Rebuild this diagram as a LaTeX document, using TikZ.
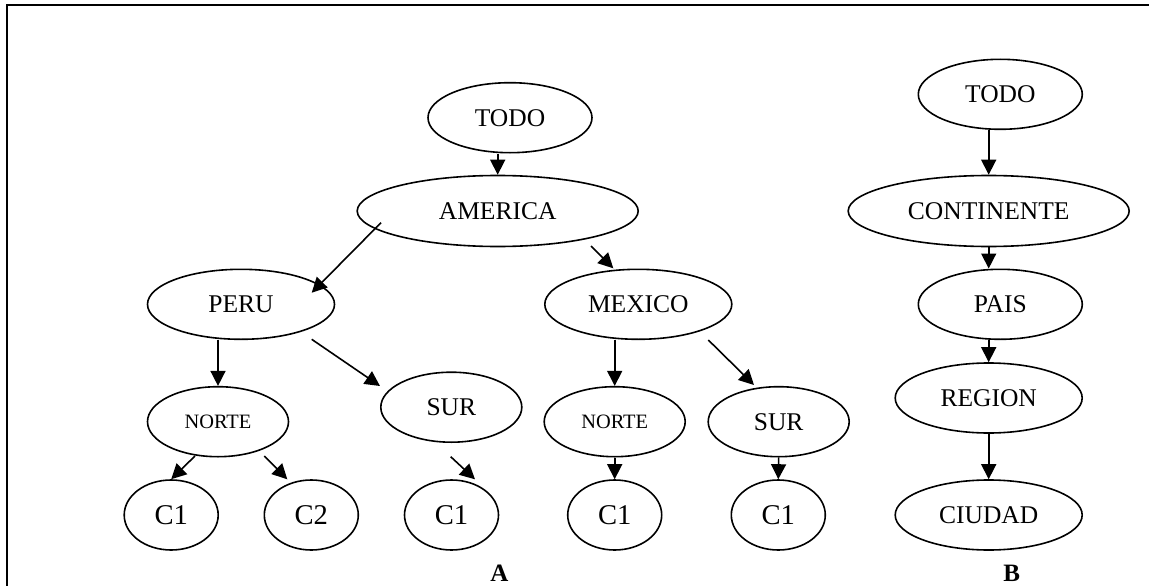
\documentclass[tikz,border=0pt]{standalone}
\usepackage{fontspec}
\setmainfont{Liberation Serif}
\usetikzlibrary{shapes.geometric,arrows.meta}
\begin{document}
\begin{tikzpicture}[x=1pt,y=-1pt,
  ell/.style={draw,ellipse,line width=1.6pt,inner sep=0pt,font=\fontsize{25.5}{28}\selectfont},
  big/.style={ell,minimum width=281pt,minimum height=71pt},
  mid/.style={ell,minimum width=187pt,minimum height=70pt},
  sml/.style={ell,minimum width=164pt,minimum height=70pt},
  sur/.style={ell,minimum width=141pt,minimum height=70pt},
  nrt/.style={ell,minimum width=141pt,minimum height=70pt,font=\fontsize{20.4}{22}\selectfont},
  cc/.style={ell,minimum width=94pt,minimum height=70pt,font=\fontsize{28.6}{30}\selectfont},
  arr/.style={line width=1.6pt,-{Triangle[length=15pt,width=15pt]}},
  lbl/.style={font=\fontsize{25}{27}\selectfont\bfseries,anchor=base}]
\useasboundingbox (0,0) rectangle (1149,586);
\draw[line width=1.8pt] (7.3,590) -- (7.3,5) -- (1152,5);
% tree A
\node[sml] (todo) at (510,117.7) {TODO};
\node[big] (america) at (497.7,211) {AMERICA};
\node[mid] (peru) at (241,304.3) {PERU};
\node[mid] (mexico) at (638.3,304.3) {MEXICO};
\node[nrt] (norteP) at (218,421.7) {NORTE};
\node[sur] (surP) at (451.3,407.2) {SUR\hspace{12pt}};
\node[nrt] (norteM) at (614.7,421.7) {NORTE};
\node[sur] (surM) at (778.7,421.7) {SUR};
\node[cc] (c1a) at (171.2,515) {C1};
\node[cc] (c2a) at (311.3,515) {C2};
\node[cc] (c1b) at (451.5,515) {C1};
\node[cc] (c1c) at (614.7,515) {C1};
\node[cc] (c1d) at (778.3,515) {C1};
\node[lbl] (la) at (499.5,581) {A};
% tree B
\node[sml] (todoB) at (1000.3,94.3) {TODO};
\node[big] (cont) at (988.7,211) {CONTINENTE};
\node[sml] (pais) at (1000.3,304.3) {PAIS};
\node[mid] (region) at (988.7,398) {REGION};
\node[mid] (ciudad) at (988.7,515) {CIUDAD};
\node[lbl] (lb) at (1011.7,581) {B};
% arrows A
\draw[arr] (america.north |- todo.south) -- (america.north);
\draw[arr] ([shift={(-116.7,11.7)}]america.center) -- ([shift={(70.7,-11.6)}]peru.center);
\draw[arr] ([shift={(93.3,35)}]america.center) -- ([shift={(-25,-36)}]mexico.center);
\draw[arr] (norteP.north |- peru.south) -- (norteP.north);
\draw[arr] ([shift={(70.7,35)}]peru.center) -- ([shift={(-71.3,-21.2)}]surP.center);
\draw[arr] ([shift={(-23,34.3)}]norteP.center) -- (c1a.north);
\draw[arr] ([shift={(46.3,34.3)}]norteP.center) -- ([shift={(-24,-35.7)}]c2a.center);
\draw[arr] ([shift={(-0.6,49.5)}]surP.center) -- ([shift={(23.5,-35.7)}]c1b.center);
\draw[arr] (norteM.north |- mexico.south) -- (norteM.north);
\draw[arr] ([shift={(70,35.7)}]mexico.center) -- ([shift={(-24.7,-36.7)}]surM.center);
\draw[arr] (norteM.south) -- (c1c.north);
\draw[arr] (surM.south) -- (c1d.north);
% arrows B
\draw[arr] (cont.north |- todoB.south) -- (cont.north);
\draw[arr] (cont.south) -- (cont.south |- pais.north);
\draw[arr] (region.north |- pais.south) -- (region.north);
\draw[arr] (region.south) -- (ciudad.north);
\end{tikzpicture}
\end{document}
